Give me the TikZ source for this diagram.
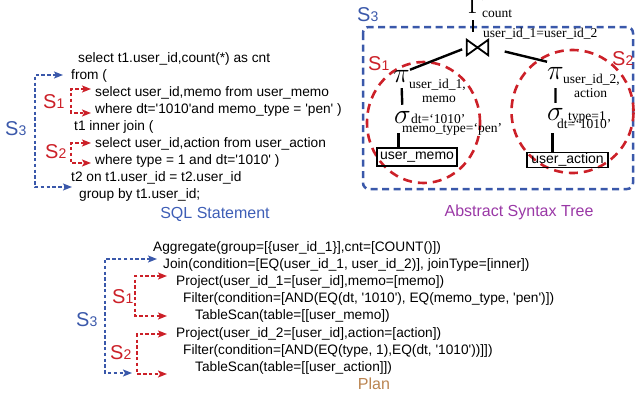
\RequirePackage{fix-cm}
\documentclass[tikz,border=0pt]{standalone}
\usepackage[no-math]{fontspec}
\setmainfont{Liberation Sans}
\newfontfamily\serifface{Liberation Serif}
% plain XeTeX font: keeps straight ASCII quotes in the code listings
\font\codefont="Liberation Sans" at 13.7pt
\usetikzlibrary{arrows.meta,shapes.geometric}

\definecolor{sblue}{RGB}{58,88,170}
\definecolor{sred}{RGB}{204,32,40}
\definecolor{capblue}{RGB}{62,94,182}
\definecolor{cappurple}{RGB}{154,56,166}
\definecolor{capbrown}{RGB}{186,132,80}

% big S with a small index digit
\newcommand\slab[2]{{\fontsize{20}{20}\selectfont #1}{\fontsize{14}{14}\selectfont #2}}

\tikzset{
  code/.style={font=\codefont, anchor=base west, inner sep=0pt},
  slabel/.style={anchor=base west, inner sep=0pt},
  caption/.style={font=\fontsize{16}{16}\selectfont, anchor=base, inner sep=0pt},
  tsub/.style={font=\serifface\fontsize{13.5}{13.5}\selectfont, anchor=base west, inner sep=0pt},
  sym/.style={font=\fontsize{28}{28}\selectfont, anchor=base west, inner sep=0pt},
  tbox/.style={draw, line width=1.4pt, font=\fontsize{14}{14}\selectfont, inner sep=0pt},
  treeline/.style={line width=2.4pt},
  bracket/.style={line width=1.5pt, dash pattern=on 3.4pt off 2.4pt,
    {Stealth[length=9pt,width=7pt,inset=2pt]}-{Stealth[length=9pt,width=7pt,inset=2pt]}},
  bluebr/.style={bracket, draw=sblue},
  redbr/.style={bracket, draw=sred},
  groupbox/.style={draw=sblue, line width=2.5pt, dash pattern=on 7pt off 4.5pt, rounded corners=6pt},
  groupring/.style={draw=sred, line width=2.6pt, dash pattern=on 9pt off 6pt, ellipse, inner sep=0pt}
}

\begin{document}
\begin{tikzpicture}[x=1pt, y=-1pt]
\useasboundingbox (0,0) rectangle (636,392);

% ---------------- SQL statement ----------------
\node[code] (l1) at (78,62)  {select t1.user\_id,count(*) as cnt};
\node[code] (l2) at (71,79)  {from (};
\node[code] (l3) at (95,96)  {select user\_id,memo from user\_memo};
\node[code] (l4) at (95,113) {where dt='1010'and memo\_type = 'pen' )};
\node[code] (l5) at (74,130) {t1 inner join (};
\node[code] (l6) at (95,147) {select user\_id,action from user\_action};
\node[code] (l7) at (95,164) {where type = 1 and dt='1010' )};
\node[code] (l8) at (71,181) {t2 on t1.user\_id = t2.user\_id};
\node[code] (l9) at (79,198) {group by t1.user\_id;};
\node[caption, text=capblue] (capsql) at (215,218) {SQL Statement};

\node[slabel, text=sblue] (sq3) at (5,135)  {\slab{S}{3}};
\node[slabel, text=sred]  (sq1) at (43,108) {\slab{S}{1}};
\node[slabel, text=sred]  (sq2) at (45,158) {\slab{S}{2}};

\coordinate (q3bar) at (35,0);
\coordinate (q3top) at (63,75);
\coordinate (q3bot) at (72,187);
\draw[bluebr] (q3top) -- (q3top -| q3bar) -- (q3bot -| q3bar) -- (q3bot);

\coordinate (q1bar) at (71,0);
\coordinate (q1top) at (91,89);
\coordinate (q1bot) at (91,113);
\draw[redbr] (q1top) -- (q1top -| q1bar) -- (q1bot -| q1bar) -- (q1bot);

\coordinate (q2top) at (91,143);
\coordinate (q2bot) at (91,163);
\draw[redbr] (q2top) -- (q2top -| q1bar) -- (q2bot -| q1bar) -- (q2bot);

% ---------------- abstract syntax tree ----------------
\draw[groupbox] (363,27) rectangle (633,189);
\node[slabel, text=sblue] (as3) at (357,21) {\slab{S}{3}};
\node[slabel, text=sred]  (as1) at (368,70) {\slab{S}{1}};
\node[slabel, text=sred]  (as2) at (612,65) {\slab{S}{2}};

\node[groupring, minimum width=113, minimum height=121] (ring1) at (423.5,122.5) {};
\node[groupring, minimum width=122, minimum height=123] (ring2) at (572.5,111.5) {};

\node[sym] (gam) at (467.4,13.5) {$\Gamma$};
\node[tsub] (gcount) at (482,17) {count};
\node[minimum width=21, minimum height=15, inner sep=0pt] (join) at (477.5,47.5) {};
\draw[line width=1.8pt] (join.north west) -- (join.south west) -- (join.north east)
  -- (join.south east) -- cycle;
\node[tsub] (jcond) at (483,37) {user\_id\_1=user\_id\_2};
\draw[treeline, shorten >=8pt] ([xshift=5.6pt,yshift=-6.5pt]gam.base west)
  -- ([xshift=5.6pt]gam.base west |- join.north);

% left branch
\node[sym] (pil) at (393,82) {$\pi$};
\node[tsub] (pils1) at (409,88)  {user\_id\_1,};
\node[tsub] (pils2) at (422,102) {memo};
\node[sym] (sigl) at (394,123) {$\sigma$};
\node[tsub] (sigls1) at (411,123) {dt=‘1010’};
\node[tsub] (sigls2) at (402,132) {memo\_type=‘pen’};
\node[tbox, minimum width=80, minimum height=18] (umemo) at (417,157) {user\_memo};

% right branch
\node[sym] (pir) at (547,79) {$\pi$};
\node[tsub] (pirs1) at (563,83) {user\_id\_2,};
\node[tsub] (pirs2) at (574,97) {action};
\node[sym] (sigr) at (547,120) {$\sigma$};
\node[tsub] (sigrs1) at (568,120) {type=1};
\node[tsub] (sigrs2) at (557,128) {dt=‘1010’};
\node[tbox, minimum width=81, minimum height=15] (uaction) at (567.5,160) {user\_action};

\draw[treeline, shorten <=5pt] (join.west) -- (pil.north east);
\draw[treeline, shorten <=17pt] (join.east) -- ([yshift=5pt]pir.north west);
\draw[treeline, shorten <=6pt, shorten >=6pt] (pil.south) -- (sigl.north);
\draw[treeline] ([xshift=-4pt,yshift=-10pt]sigl.south) -- ([xshift=-4pt]sigl.south |- umemo.north);
\draw[treeline, shorten <=9pt, shorten >=5pt] (pir.south) -- (sigr.north);
\draw[treeline] ([xshift=-3pt,yshift=-13pt]sigr.south) -- ([xshift=-3pt]sigr.south |- uaction.north);

\node[caption, text=cappurple] (capast) at (519,216) {Abstract Syntax Tree};

% ---------------- plan ----------------
\node[code] (p1) at (153,251)   {Aggregate(group=[\{user\_id\_1\}],cnt=[COUNT()])};
\node[code] (p2) at (163,268)   {Join(condition=[EQ(user\_id\_1, user\_id\_2)], joinType=[inner])};
\node[code] (p3) at (176,285.5) {Project(user\_id\_1=[user\_id],memo=[memo])};
\node[code] (p4) at (183,302.5) {Filter(condition=[AND(EQ(dt, '1010'), EQ(memo\_type, 'pen')])};
\node[code] (p5) at (195,319.5) {TableScan(table=[[user\_memo])};
\node[code] (p6) at (176,337)   {Project(user\_id\_2=[user\_id],action=[action])};
\node[code] (p7) at (183,354)   {Filter(condition=[AND(EQ(type, 1),EQ(dt, '1010'))]])};
\node[code] (p8) at (195,371)   {TableScan(table=[[user\_action]])};
\node[caption, text=capbrown] (capplan) at (374,389) {Plan};

\node[slabel, text=sblue] (pl3) at (76,326)  {\slab{S}{3}};
\node[slabel, text=sred]  (pl1) at (112,303) {\slab{S}{1}};
\node[slabel, text=sred]  (pl2) at (110,359) {\slab{S}{2}};

\coordinate (r3bar) at (105,0);
\coordinate (r3top) at (157,259);
\coordinate (r3bot) at (132,373);
\draw[bluebr] (r3top) -- (r3top -| r3bar) -- (r3bot -| r3bar) -- (r3bot);

\coordinate (r1bar) at (135,0);
\coordinate (r1top) at (167,276);
\coordinate (r1bot) at (167,316);
\draw[redbr] (r1top) -- (r1top -| r1bar) -- (r1bot -| r1bar) -- (r1bot);

\coordinate (r2bar) at (137,0);
\coordinate (r2top) at (167,334);
\coordinate (r2bot) at (167,374);
\draw[redbr] (r2top) -- (r2top -| r2bar) -- (r2bot -| r2bar) -- (r2bot);
\end{tikzpicture}
\end{document}
